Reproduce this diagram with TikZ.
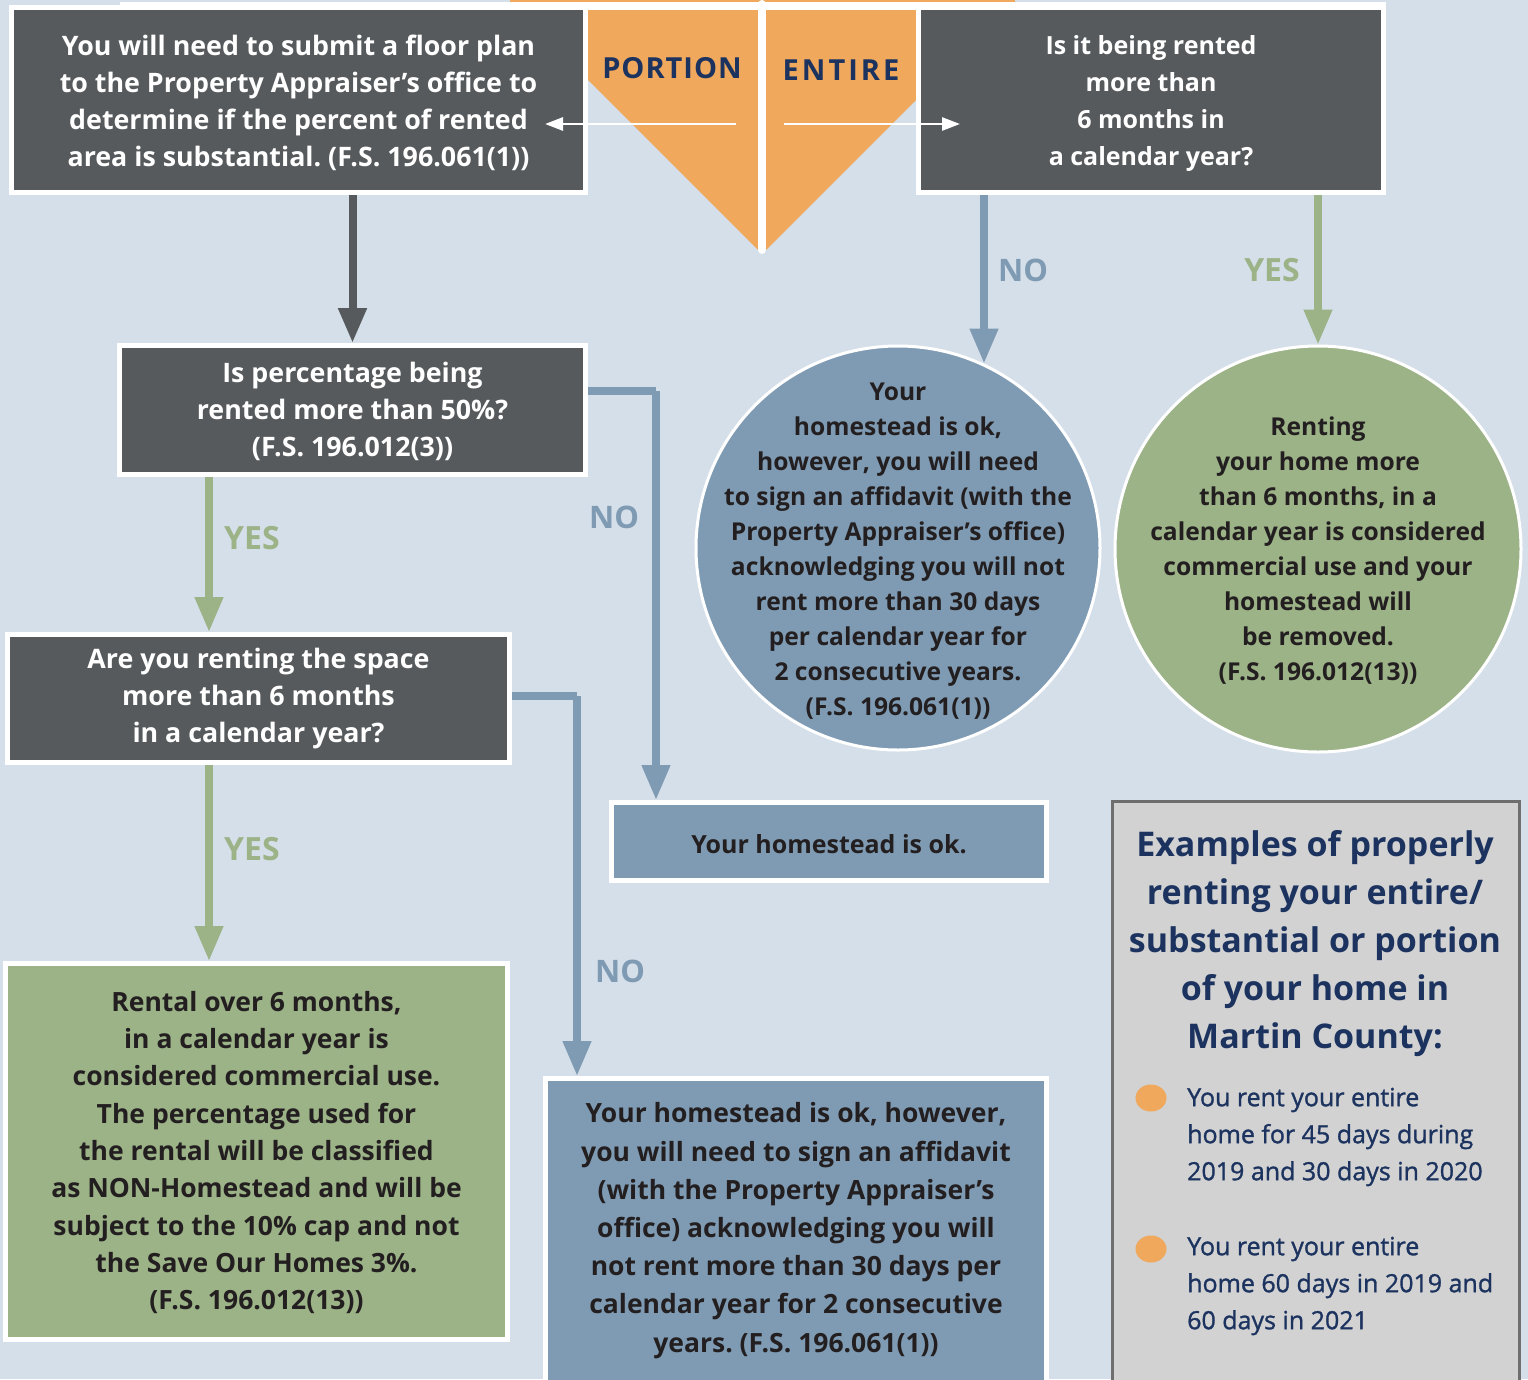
\documentclass[tikz,border=0pt]{standalone}
\usepackage{fontspec}
\setmainfont{Open Sans}
\newfontfamily\midfont[FakeBold=1.2]{Open Sans}
\usetikzlibrary{arrows.meta,shapes.geometric}
\definecolor{bgc}{HTML}{D5DFE9}
\definecolor{dkc}{HTML}{565A5C}
\definecolor{blc}{HTML}{7F9BB3}
\definecolor{grc}{HTML}{9CB287}
\definecolor{orc}{HTML}{EFA85C}
\definecolor{nvc}{HTML}{1C335F}
\definecolor{txc}{HTML}{231F20}
\definecolor{exbg}{HTML}{D2D2D2}
\definecolor{exbd}{HTML}{6E6E6E}
\frenchspacing
\begin{document}
\begin{tikzpicture}[x=1pt,y=-1pt,
  box/.style={rectangle, draw=white, line width=5pt, align=center, inner sep=0pt},
  darkbox/.style={box, fill=dkc, text=white, font=\fontsize{26.8}{37}\selectfont\bfseries},
  bluebox/.style={box, fill=blc, text=txc},
  greenbox/.style={box, fill=grc, text=txc},
  bubble/.style={circle, draw=white, line width=3pt, inner sep=0pt, minimum size=404pt},
  bubbletext/.style={text=txc, align=center, inner sep=0pt, font=\fontsize{24.6}{35}\selectfont\bfseries},
  dkarr/.style={draw=dkc, line width=8pt, -{Triangle[width=27pt,length=35pt]}},
  grarr/.style={draw=grc, line width=7.5pt, -{Triangle[width=27pt,length=35pt]}},
  blarr/.style={draw=blc, line width=7.5pt, -{Triangle[width=27pt,length=35pt]}},
  wharr/.style={draw=white, line width=2.7pt, -{Triangle[width=13pt,length=18pt]}},
  yeslbl/.style={text=grc, font=\fontsize{32}{32}\selectfont\bfseries},
  nolbl/.style={text=blc, font=\fontsize{31}{31}\selectfont\bfseries},
  choice/.style={text=nvc, font=\fontsize{29}{29}\selectfont\bfseries},
  dot/.style={ellipse, fill=orc, minimum width=31pt, minimum height=27pt, inner sep=0pt},
  bullettext/.style={anchor=west, align=left, text=nvc, inner sep=0pt, font=\midfont\fontsize{25}{37}\selectfont}
]
\useasboundingbox (0,0) rectangle (1528,1379);
\fill[bgc] (0,0) rectangle (1528,1379);
\clip (0,0) rectangle (1528,1379);

% top strip
\fill[orc] (510,0) rectangle (1015,3);
\fill[white] (120,2) rectangle (1386,10);

% orange V
\fill[orc] (588,10) -- (916,10) -- (916,100) -- (762,254) -- (588,80) -- cycle;
\draw[white, line width=8pt, line cap=round] (762,4) -- (762,250);

% top boxes
\node[darkbox, minimum width=574pt, minimum height=185pt] (b1) at (298.5,100)
  {\rule{0pt}{26pt}You will need to submit a floor plan\\to the Property Appraiser’s office to\\determine if the percent of rented\\area is substantial. (F.S. 196.061(1))};
\node[darkbox, minimum width=465pt, minimum height=185pt, font=\fontsize{25}{37}\selectfont\bfseries] (b2) at (1151,100)
  {\rule{0pt}{25pt}Is it being rented\\more than\\6 months in\\a calendar year?};

\node[choice] (por) at (672,68) {P\kern1ptO\kern1ptR\kern1ptT\kern1ptI\kern1ptO\kern1ptN};
\node[choice] (ent) at (841,70) {E\kern3ptN\kern3ptT\kern3ptI\kern3ptR\kern3ptE};
\coordinate (pl1) at (736,124);
\coordinate (pl2) at (545,124);
\coordinate (en1) at (784,124);
\coordinate (en2) at (960,124);
\draw[wharr] (pl1) -- (pl2);
\draw[wharr] (en1) -- (en2);

% left column
\node[darkbox, minimum width=466pt, minimum height=129pt] (b3) at (352.5,410)
  {\rule{0pt}{24pt}Is percentage being\\rented more than 50\%?\\(F.S. 196.012(3))};
\node[darkbox, minimum width=502pt, minimum height=128pt] (b4) at (258.5,698.5)
  {Are you renting the space\\more than 6 months\\in a calendar year?};
\node[greenbox, minimum width=502pt, minimum height=376pt, font=\fontsize{26.5}{37.3}\selectfont\bfseries] (b5) at (256.5,1151.5)
  {\rule{0pt}{22pt}Rental over 6 months,\\in a calendar year is\\considered commercial use.\\The percentage used for\\the rental will be classified\\as NON-Homestead and will be\\subject to the 10\% cap and not\\the Save Our Homes 3\%.\\(F.S. 196.012(13))};

% middle
\node[bluebox, minimum width=435pt, minimum height=78pt, font=\fontsize{25}{30}\selectfont\bfseries] (b7) at (829,841.5) {\rule{0pt}{24pt}Your homestead is ok.};
\node[bluebox, minimum width=501pt, minimum height=360pt] (b6) at (796,1258.5) {};
\node[text=txc, align=center, inner sep=0pt, font=\fontsize{26.5}{38.2}\selectfont\bfseries] (b6t) at (796,1230.5)
  {Your homestead is ok, however,\\you will need to sign an affidavit\\(with the Property Appraiser’s\\office) acknowledging you will\\not rent more than 30 days per\\calendar year for 2 consecutive\\years. (F.S. 196.061(1))};

% circles
\node[bubble, fill=blc] (c1) at (898,548) {};
\node[bubbletext] (c1t) at (898,551)
  {Your\\homestead is ok,\\however, you will need\\to sign an affidavit (with the\\Property Appraiser’s office)\\acknowledging you will not\\rent more than 30 days\\per calendar year for\\2 consecutive years.\\(F.S. 196.061(1))};
\node[bubble, fill=grc, minimum size=406pt] (c2) at (1318,549) {};
\node[bubbletext] (c2t) at (1318,551)
  {Renting\\your home more\\than 6 months, in a\\calendar year is considered\\commercial use and your\\homestead will\\be removed.\\(F.S. 196.012(13))};

% examples box
\node[rectangle, draw=exbd, fill=exbg, line width=3pt, minimum width=407pt, minimum height=620pt, inner sep=0pt] (ex) at (1316,1111.5) {};
\node[text=nvc, align=center, inner sep=0pt, font=\fontsize{34}{48}\selectfont\bfseries] (ext) at (1315,944)
  {Examples of properly\\renting your entire/\\substantial or portion\\of your home in\\Martin County:};
\node[dot] (d1) at (1151,1098) {};
\node[dot] (d2) at (1151,1249) {};
\node[bullettext] (t1) at (1187,1137) {You rent your entire\\home for 45 days during\\2019 and 30 days in 2020};
\node[bullettext] (t2) at (1187,1286) {You rent your entire\\home 60 days in 2019 and\\60 days in 2021};

% connectors
\coordinate (gx) at (209,0);
\coordinate (k1) at (656,391);
\coordinate (k2) at (577,696);
\draw[dkarr] (b3.north |- b1.south) -- (b3.north);
\draw[grarr] (gx |- b3.south) -- (gx |- b4.north);
\draw[grarr] (gx |- b4.south) -- (gx |- b5.north);
\draw[blarr, -] (b3.east |- k1) -- (k1);
\draw[blarr] (k1) -- (k1 |- b7.north);
\draw[blarr, -] (b4.east |- k2) -- (k2);
\draw[blarr] (k2) -- (k2 |- b6.north);
\draw[blarr] (b2.south -| c1.65.5) -- (c1.65.5);
\draw[grarr] (b2.south -| c2.north) -- (c2.north);

% labels
\node[yeslbl] (y1) at (252,538) {YES};
\node[yeslbl] (y2) at (252,849) {YES};
\node[yeslbl] (y3) at (1272,270) {YES};
\node[nolbl] (n1) at (614,517) {NO};
\node[nolbl] (n2) at (620,971) {NO};
\node[nolbl] (n3) at (1023,270) {NO};
\end{tikzpicture}
\end{document}
